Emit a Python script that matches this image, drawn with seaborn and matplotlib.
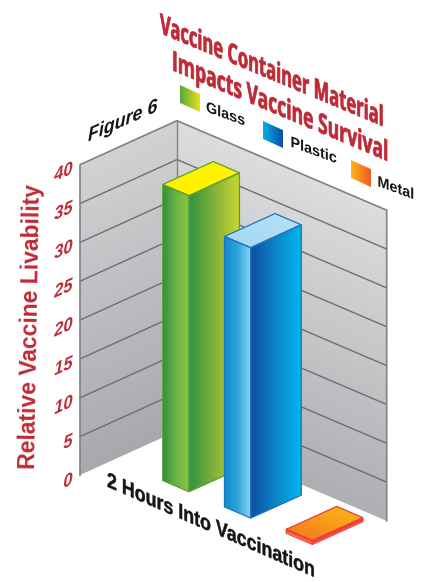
import numpy as np
import seaborn as sns
import matplotlib
matplotlib.use("Agg")
import matplotlib.pyplot as plt
from matplotlib.colors import LinearSegmentedColormap
from matplotlib.patches import Polygon
from matplotlib.patheffects import AbstractPathEffect
from matplotlib.transforms import Affine2D

materials = ["Glass", "Plastic", "Metal"]
survival = [38.1, 34.8, 0.5]
ticks = [0, 5, 10, 15, 20, 25, 30, 35, 40]

left_faces = [["#2E9140", "#6DB544", "#8CC63F"], ["#0F8CCB", "#2FA3DC", "#8CD3F5"], ["#F15A29", "#F15A29"]]
right_faces = [["#2E9440", "#86B03A", "#C9D92E"], ["#0E4FA0", "#0A86C8", "#00B8F0"], ["#EF4136", "#EF4136"]]
top_faces = [["#FFF200", "#FFF200"], ["#A5D8F5", "#B5E0F8"], ["#F47F20", "#FBB017"]]
edges = ["#5F9E34", "#1C75BC", "#EE3E3E"]
swatches = [["#53A93F", "#E6E21A"], ["#00AEEF", "#0D4EA0"], ["#FFB51A", "#F15A24"]]

RED = "#BE2A36"
BLACK = "#151515"

# fake 3d box: back corner on the floor and the three axis directions, in pixels
ORIGIN = np.array([177.0, 431.5])
EX = np.array([209.7, 89.5])
ED = np.array([-97.0, 44.0])
EV = np.array([0.0, -7.77])
U0, U_STEP = 0.293, 0.2945
BAR_W = 0.4245
D_FRONT, D_BACK = 0.6455, 0.125


def proj(u, d, v):
    return ORIGIN + u * EX + d * ED + v * EV


class Slant(AbstractPathEffect):
    # rotated text whose upright strokes stay vertical, like text on a wall
    def __init__(self, axes, xy, rot, sy=1.0, stroke=0.0):
        super().__init__()
        self.axes, self.xy, self.stroke = axes, xy, stroke
        c, s = np.cos(np.radians(rot)), np.sin(np.radians(rot))
        m = np.array([[c, 0], [s, sy]]) @ np.array([[c, s], [-s, c]])
        self.mat = np.eye(3)
        self.mat[:2, :2] = m

    def draw_path(self, renderer, gc, tpath, affine, rgbFace=None):
        x, y = self.axes.transData.transform(self.xy)
        t = Affine2D().translate(-x, -y) + Affine2D(self.mat) + Affine2D().translate(x, y)
        gc2 = renderer.new_gc()
        gc2.copy_properties(gc)
        if self.stroke > 0:
            gc2.set_linewidth(self.stroke)
            gc2.set_foreground(rgbFace)
        renderer.draw_path(gc2, tpath, affine + t, rgbFace)
        gc2.restore()


def wall_text(ax, x, y, s, rot, sy=1.0, stroke=0.0, **kw):
    return ax.text(x, y, s, rotation=rot, rotation_mode="anchor", va="baseline",
                   path_effects=[Slant(ax, (x, y), rot, sy, stroke)], **kw)


def shade(ax, p0, pu, pv, colors, z, along="u"):
    # gradient on the parallelogram p0, p0+pu, p0+pv
    cmap = LinearSegmentedColormap.from_list("f", colors)
    grad = np.linspace(0, 1, 128).reshape(1, -1) if along == "u" else np.linspace(0, 1, 128).reshape(-1, 1)
    tr = Affine2D.from_values(pu[0], pu[1], pv[0], pv[1], p0[0], p0[1]) + ax.transData
    ax.imshow(grad, extent=[0, 1, 0, 1], origin="lower", aspect="auto", cmap=cmap,
              interpolation="bilinear", transform=tr, zorder=z)


sns.set_style("white")
fig = plt.figure(figsize=(4.28, 5.82), dpi=100)
ax = fig.add_axes([0, 0, 1, 1])
sns.barplot(x=materials, y=survival, width=BAR_W, color="white", ax=ax)

# walls
vmax = ticks[-1]
back_b, back_t = proj(0, 0, 0), proj(0, 0, vmax)
shade(ax, proj(0, 1, 0), back_b - proj(0, 1, 0), EV * vmax, ["#A7A9AC", "#D1D2D4"], 1, along="v")
shade(ax, back_b, EX, EV * vmax, ["#AEAFB2", "#DCDDDE"], 1, along="v")
for t in ticks[1:-1]:
    pts = np.array([proj(0, 1, t), proj(0, 0, t), proj(1, 0, t)])
    ax.plot(pts[:, 0], pts[:, 1], color="#6D6E71", lw=1.0, zorder=2)
outline = np.array([proj(0, 1, 0), proj(0, 1, vmax), proj(0, 0, vmax), proj(1, 0, vmax), proj(1, 0, 0)])
ax.plot(outline[:, 0], outline[:, 1], color="#808285", lw=1.2, zorder=2)
ax.plot([back_b[0], back_t[0]], [back_b[1], back_t[1]], color="#808285", lw=1.0, zorder=2)

# bars: seaborn's rectangles are mapped onto the front plane of the box
front = proj(U0, D_FRONT, 0)
to_front = Affine2D.from_values(U_STEP * EX[0], U_STEP * EX[1], 0, EV[1], front[0], front[1])
for i, bar in enumerate(ax.patches):
    z = 3 + i * 2
    val = bar.get_height()
    x0 = bar.get_x()
    w = bar.get_width()
    fl = to_front.transform((x0, 0))
    fr = to_front.transform((x0 + w, 0))
    up = EV * val
    back = ED * (D_BACK - D_FRONT)
    shade(ax, fl, fr - fl, up, left_faces[i], z)
    shade(ax, fr, back, up, right_faces[i], z)
    shade(ax, fl + up, fr - fl, back, top_faces[i], z, along="v")
    bar.set_transform(to_front + ax.transData)
    bar.set_facecolor("none")
    bar.set_edgecolor(edges[i])
    bar.set_linewidth(0.9)
    bar.set_zorder(z + 1)
    ax.add_patch(Polygon([fr, fr + back, fr + back + up, fr + up], closed=True, fill=False,
                         edgecolor=edges[i], lw=0.9, zorder=z + 1))
    ax.add_patch(Polygon([fl + up, fr + up, fr + up + back, fl + up + back], closed=True, fill=False,
                         edgecolor=edges[i], lw=0.9, zorder=z + 1))

# tick labels
for t in ticks:
    y = proj(0, 1, t)[1]
    wall_text(ax, 72.5, y + 8.5, str(t), 24, color=RED, ha="right", family="Liberation Sans",
              fontsize=13, fontweight="bold", fontstyle="italic")

# titles: small font size stretched upward, so the text box keeps its real length
wall_text(ax, 160, 33, "Vaccine Container Material", -22.7, sy=1.55, stroke=0.5, color=RED,
          family="Open Sans", fontsize=12.9, fontweight="bold")
wall_text(ax, 172, 70, "Impacts Vaccine Survival", -22.9, sy=1.46, stroke=0.5, color=RED,
          family="Open Sans", fontsize=13.7, fontweight="bold")
wall_text(ax, 88, 141.5, "Figure 6", 23.6, color=BLACK, family="Liberation Sans",
          fontsize=14, fontweight="bold", fontstyle="italic")
ax.text(35, 469, "Relative Vaccine Livability", rotation=89, rotation_mode="anchor", ha="left",
        va="baseline", color=RED, family="Liberation Sans", fontsize=16.5, fontweight="bold")
wall_text(ax, 107, 486.5, "2 Hours Into Vaccination", -23.6, sy=1.11, stroke=0.3, color=BLACK,
          family="Liberation Sans", fontsize=14, fontweight="bold")

# legend
swatch_xy = [(180, 85), (263, 121), (351, 160)]
label_xy = [(206, 111.5), (290.5, 146.5), (377.5, 186)]
for name, cols, sw, lb in zip(materials, swatches, swatch_xy, label_xy):
    shade(ax, np.array(sw, dtype=float), np.array([19.3, 9.0]), np.array([0.0, 17.7]), cols, 20)
    wall_text(ax, lb[0], lb[1], name, -20, color=BLACK, family="Liberation Sans",
              fontsize=11, fontweight="bold")

ax.set_xlim(0, 428)
ax.set_ylim(582, 0)
ax.axis("off")
fig.savefig("out.png", dpi=100, facecolor="white")
